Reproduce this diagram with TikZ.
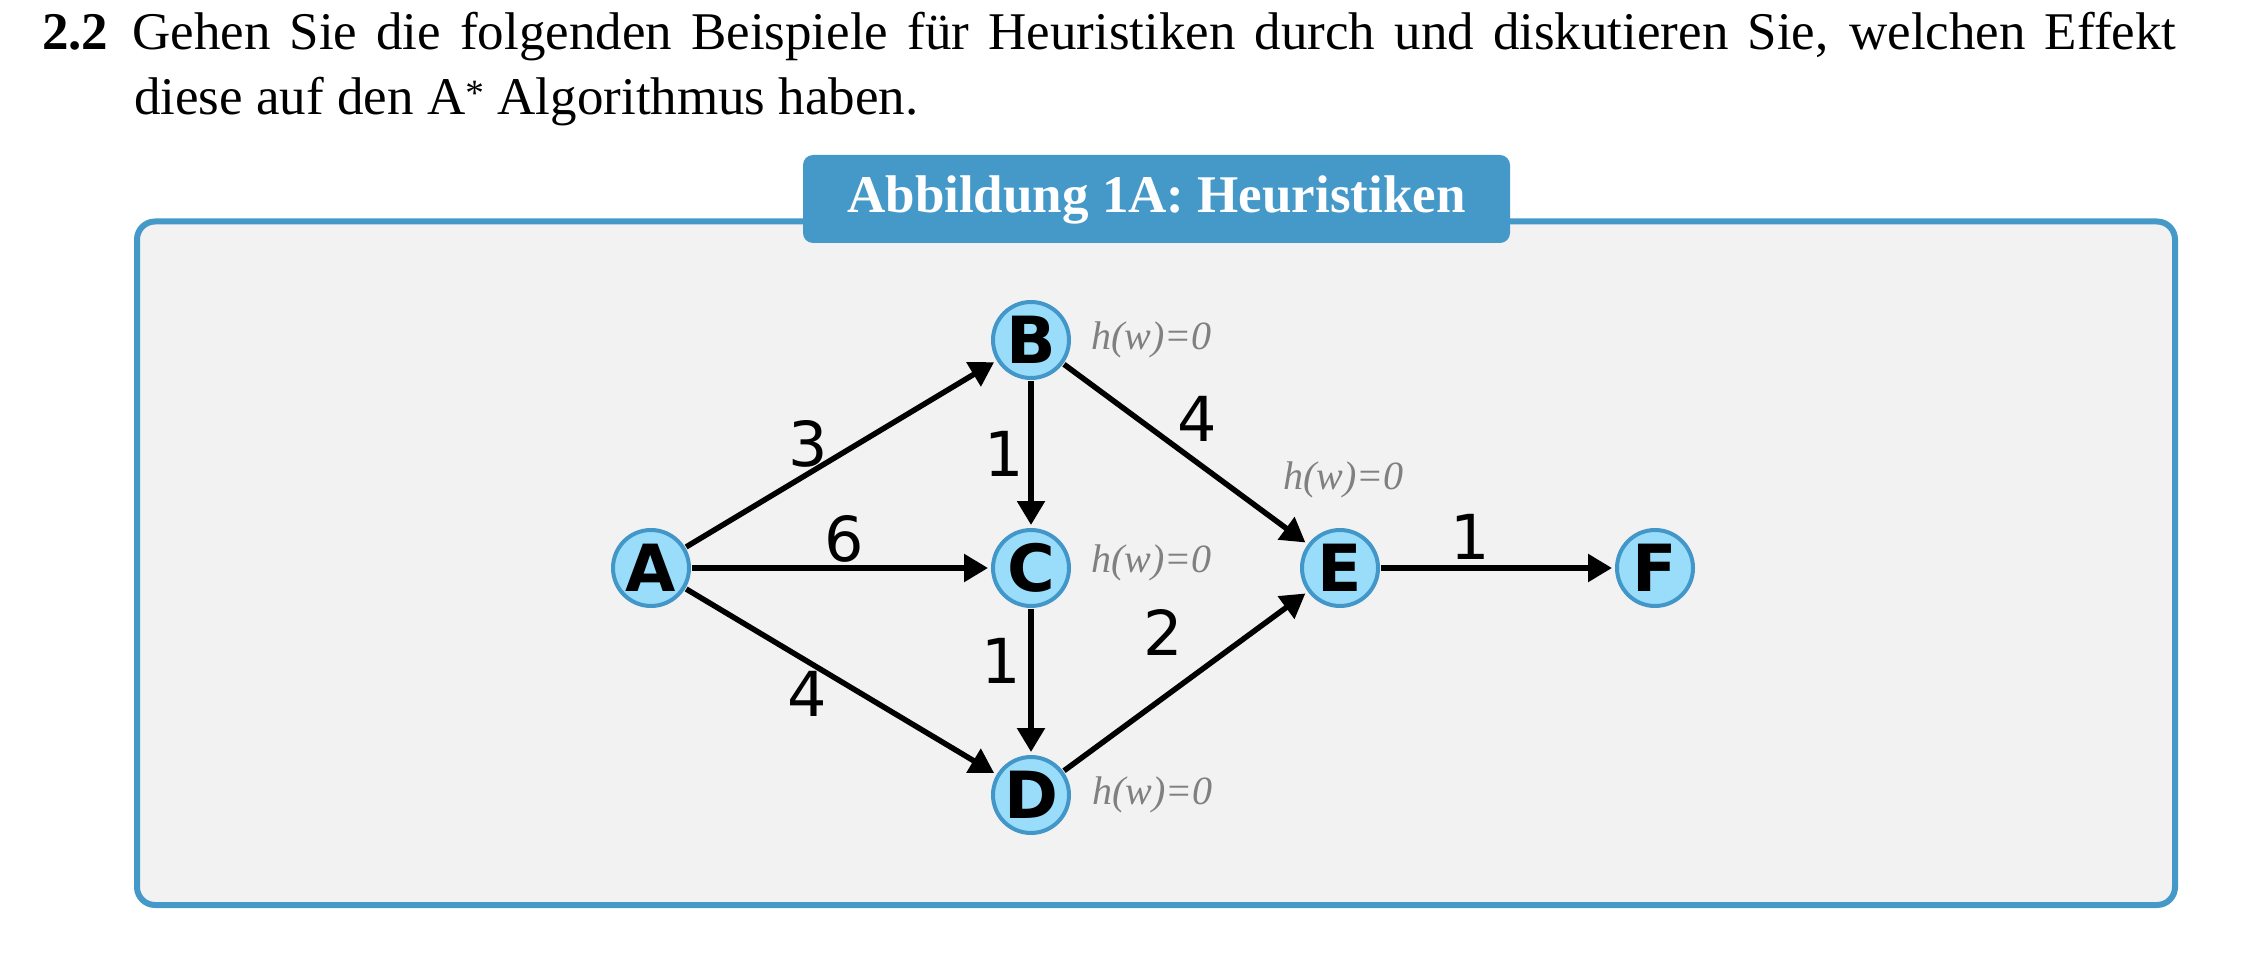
\documentclass[tikz,border=0pt]{standalone}
\usepackage{fontspec}
\setmainfont{Liberation Serif}
\newfontfamily\dejavu{DejaVu Sans}
\usetikzlibrary{arrows.meta}
\definecolor{boxblue}{RGB}{69,153,201}
\definecolor{panelgray}{RGB}{242,242,242}
\definecolor{nodefill}{RGB}{153,221,250}
\definecolor{nodeline}{RGB}{66,150,200}
\definecolor{hgray}{RGB}{128,128,128}
\begin{document}
\begin{tikzpicture}[x=1pt,y=-1pt,
  gnode/.style={circle, draw=nodeline, fill=nodefill, line width=4pt, minimum size=76pt, inner sep=0pt, font=\dejavu\bfseries\fontsize{65}{65}\selectfont},
  edge/.style={line width=5.5pt, -{Triangle[length=24pt,width=27pt]}, shorten >=3pt, shorten <=1pt},
  wlbl/.style={font=\dejavu\fontsize{62}{62}\selectfont, inner sep=0pt},
  hlbl/.style={font=\itshape\fontsize{40}{40}\selectfont, text=hgray, inner sep=0pt, anchor=west},
  txt/.style={inner sep=0pt, anchor=base west, font=\fontsize{53}{65}\selectfont},
  titlebox/.style={fill=boxblue, rounded corners=10pt, minimum width=707pt, minimum height=88pt, text height=37pt, text depth=9pt, inner sep=0pt, text=white, font=\bfseries\fontsize{53}{53}\selectfont}
]
\useasboundingbox (0,0) rectangle (2248,976);

% question text
\node[txt, font=\bfseries\fontsize{53}{65}\selectfont] (num) at (42,50) {2.2};
\node[txt] (line1) at (132,50) {\makebox[2044pt][s]{Gehen Sie die folgenden Beispiele für Heuristiken durch und diskutieren Sie, welchen Effekt}};
\node[txt] (line2) at (134,115) {diese auf den A\textsuperscript{*} Algorithmus haben.};

% panel
\draw[boxblue, line width=6pt, fill=panelgray, rounded corners=18pt] (137,221.5) rectangle (2175,905);
\node[titlebox] (title) at (1156.5,199) {Abbildung 1A: Heuristiken};

% graph nodes
\node[gnode] (A) at (651,568) {A};
\node[gnode] (B) at (1031,340) {B};
\node[gnode] (C) at (1031,568) {C};
\node[gnode] (D) at (1031,795) {D};
\node[gnode] (E) at (1340,568) {E};
\node[gnode] (F) at (1655,568) {F};

% edges
\draw[edge] (A) -- (B);
\draw[edge] (A) -- (C);
\draw[edge] (A) -- (D);
\draw[edge] (B) -- (C);
\draw[edge] (B) -- (E);
\draw[edge] (C) -- (D);
\draw[edge] (D) -- (E);
\draw[edge] (E) -- (F);

% edge weights
\node[wlbl] (wAB) at (808,444) {3};
\node[wlbl] (wAC) at (844,539) {6};
\node[wlbl] (wAD) at (807,694) {4};
\node[wlbl] (wBC) at (1004,454) {1};
\node[wlbl] (wBE) at (1197,419) {4};
\node[wlbl] (wCD) at (1001,661) {1};
\node[wlbl] (wDE) at (1163,632) {2};
\node[wlbl] (wEF) at (1470,537) {1};

% heuristic labels
\node[hlbl] (hB) at (1091,340) {h(w)=0};
\node[hlbl] (hC) at (1091,563) {h(w)=0};
\node[hlbl] (hD) at (1092,795) {h(w)=0};
\node[hlbl] (hE) at (1283,480) {h(w)=0};
\end{tikzpicture}
\end{document}
